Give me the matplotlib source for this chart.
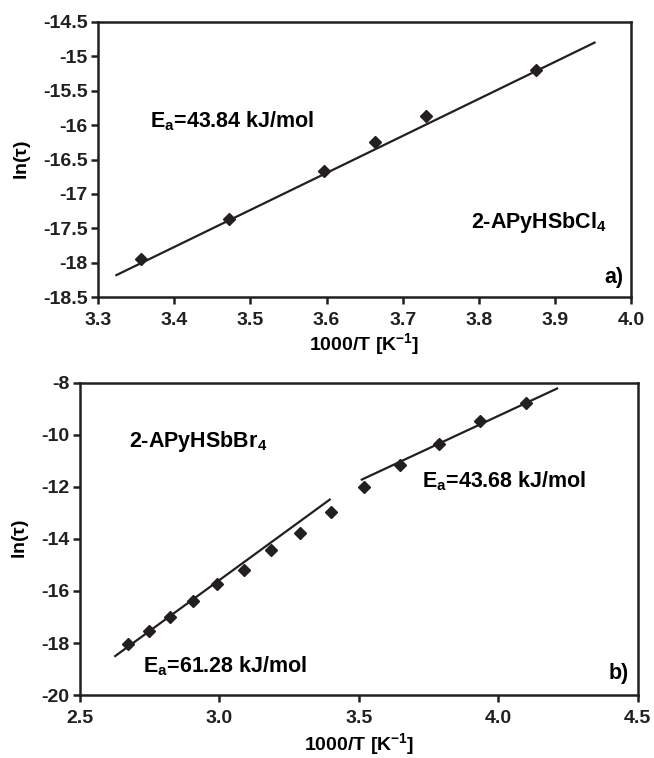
import matplotlib
matplotlib.use("Agg")
import matplotlib.pyplot as plt

plt.rcParams["font.family"] = ["Liberation Sans", "DejaVu Sans"]
plt.rcParams["font.weight"] = "bold"
plt.rcParams["mathtext.default"] = "regular"

# panel a) 2-APyHSbCl4
a_x = [3.356, 3.472, 3.597, 3.663, 3.731, 3.875]
a_y = [-17.95, -17.37, -16.66, -16.24, -15.86, -15.20]
a_fit_x = [3.324, 3.952]
a_fit_y = [-18.18, -14.80]

# panel b) 2-APyHSbBr4
b_x = [2.672, 2.747, 2.822, 2.906, 2.993, 3.087, 3.185, 3.288, 3.400,
       3.520, 3.649, 3.787, 3.935, 4.098]
b_y = [-18.05, -17.54, -16.99, -16.37, -15.72, -15.19, -14.43, -13.79, -12.97,
       -11.99, -11.16, -10.35, -9.48, -8.77]
b_fit1_x = [2.627, 3.396]
b_fit1_y = [-18.50, -12.49]
b_fit2_x = [3.511, 4.211]
b_fit2_y = [-11.72, -8.22]

a_xticks = [3.3, 3.4, 3.5, 3.6, 3.7, 3.8, 3.9, 4.0]
a_yticks = [-18.5, -18, -17.5, -17, -16.5, -16, -15.5, -15, -14.5]
a_ylabels = ["-18.5", "-18", "-17.5", "-17", "-16.5", "-16", "-15.5", "-15", "-14.5"]
b_xticks = [2.5, 3.0, 3.5, 4.0, 4.5]
b_yticks = [-20, -18, -16, -14, -12, -10, -8]

ink = "#231f20"
tick_fs = 14
label_fs = 14
note_fs = 15.5

fig = plt.figure(figsize=(6.54, 7.58), dpi=100)
ax1 = fig.add_axes([0.150, 0.608, 0.815, 0.363])
ax2 = fig.add_axes([0.122, 0.083, 0.853, 0.412])

for ax in (ax1, ax2):
    for spine in ax.spines.values():
        spine.set_linewidth(1.8)
        spine.set_color(ink)
    ax.tick_params(direction="out", width=1.8, labelsize=tick_fs,
                   colors=ink, top=False, right=False)
    ax.tick_params(axis="x", length=5, pad=6)
    ax.tick_params(axis="y", length=5, pad=2.5)

ax1.plot(a_fit_x, a_fit_y, color=ink, lw=1.6)
ax1.plot(a_x, a_y, "D", color=ink, ms=6.5)
ax1.set_xlim(3.3, 4.0)
ax1.set_ylim(-18.5, -14.5)
ax1.set_xticks(a_xticks)
ax1.set_xticklabels([f"{t:.1f}" for t in a_xticks], fontweight="bold")
ax1.set_yticks(a_yticks)
ax1.set_yticklabels(a_ylabels, fontweight="bold")
ax1.set_xlabel("1000/T [K$^{-1}$]", fontsize=label_fs, fontweight="bold", labelpad=1)
ax1.set_ylabel(r"ln($\tau$)", fontsize=label_fs, fontweight="bold", labelpad=7)
ax1.text(3.368, -15.94, "E$_a$=43.84 kJ/mol", fontsize=note_fs, fontweight="bold", va="center")
ax1.text(3.79, -17.42, "2-APyHSbCl$_4$", fontsize=note_fs, fontweight="bold", va="center")
ax1.text(0.985, 0.07, "a)", transform=ax1.transAxes, fontsize=note_fs,
         fontweight="bold", ha="right", va="center")

ax2.plot(b_fit1_x, b_fit1_y, color=ink, lw=1.6)
ax2.plot(b_fit2_x, b_fit2_y, color=ink, lw=1.6)
ax2.plot(b_x, b_y, "D", color=ink, ms=6.5)
ax2.set_xlim(2.5, 4.5)
ax2.set_ylim(-20, -8)
ax2.set_xticks(b_xticks)
ax2.set_xticklabels([f"{t:.1f}" for t in b_xticks], fontweight="bold")
ax2.set_yticks(b_yticks)
ax2.set_yticklabels([str(t) for t in b_yticks], fontweight="bold")
ax2.set_xlabel("1000/T [K$^{-1}$]", fontsize=label_fs, fontweight="bold", labelpad=3)
ax2.set_ylabel(r"ln($\tau$)", fontsize=label_fs, fontweight="bold", labelpad=7)
ax2.text(2.675, -10.25, "2-APyHSbBr$_4$", fontsize=note_fs, fontweight="bold", va="center")
ax2.text(3.728, -11.79, "E$_a$=43.68 kJ/mol", fontsize=note_fs, fontweight="bold", va="center")
ax2.text(2.725, -18.9, "E$_a$=61.28 kJ/mol", fontsize=note_fs, fontweight="bold", va="center")
ax2.text(0.985, 0.07, "b)", transform=ax2.transAxes, fontsize=note_fs,
         fontweight="bold", ha="right", va="center")

fig.savefig("out.png", dpi=100)
